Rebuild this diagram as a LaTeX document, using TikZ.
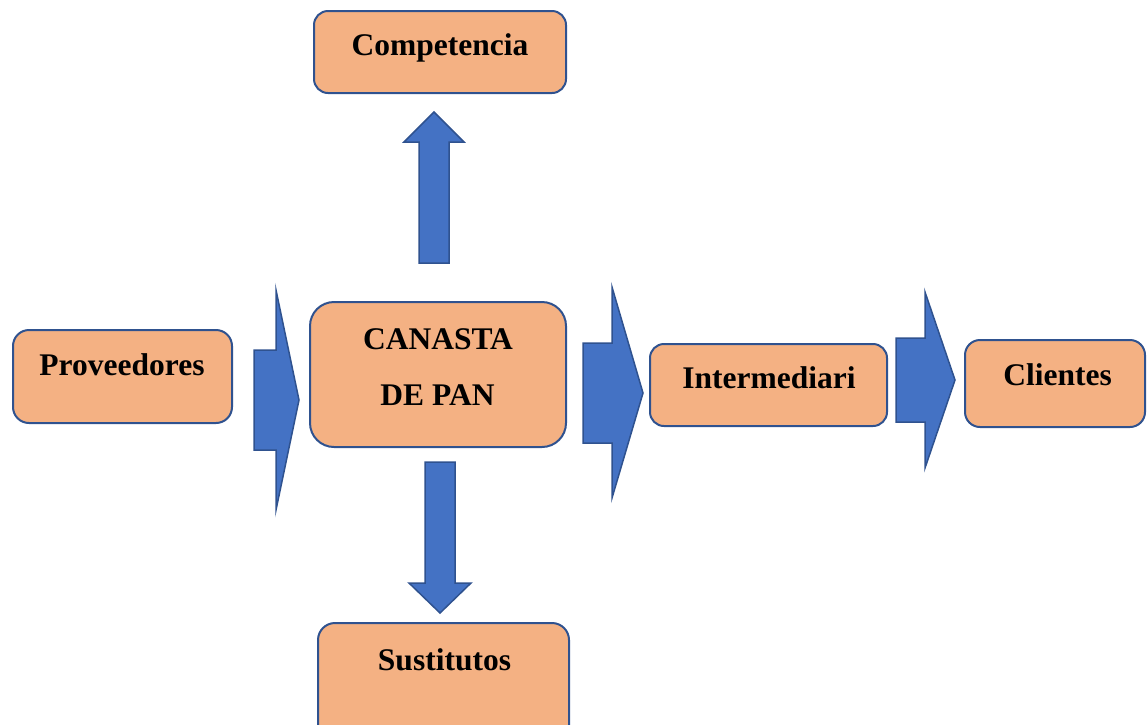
\documentclass[tikz,border=0pt]{standalone}
\usepackage{fontspec}
\setmainfont{Liberation Serif}
\definecolor{boxfill}{HTML}{F4B183}
\definecolor{boxline}{HTML}{2F528F}
\definecolor{arrfill}{HTML}{4472C4}
\begin{document}
\begin{tikzpicture}[x=1pt,y=-1pt,
  box/.style={draw=boxline, fill=boxfill, line width=2pt, rectangle, inner sep=0pt},
  lbl/.style={font=\fontsize{31.5}{38}\selectfont\bfseries, anchor=base, inner sep=0pt},
  blockarrow/.style={draw=boxline, fill=arrfill, line width=1.5pt, line join=miter}]
\useasboundingbox (0,0) rectangle (1147,724);
% boxes
\node[box, rounded corners=14pt, minimum width=252pt, minimum height=82pt] (comp) at (440,52) {};
\node[box, rounded corners=16pt, minimum width=219pt, minimum height=93pt] (prov) at (122.5,376.5) {};
\node[box, rounded corners=24pt, minimum width=256pt, minimum height=145pt] (canasta) at (438,374.5) {};
\node[box, rounded corners=14pt, minimum width=237pt, minimum height=82pt] (inter) at (768.5,385) {};
\node[box, rounded corners=15pt, minimum width=180pt, minimum height=87pt] (cli) at (1055,383.5) {};
\node[box, rounded corners=17pt, minimum width=251pt, minimum height=140pt] (sust) at (443.5,693) {};
% labels
\node[lbl] (tcomp) at (440,55) {Competencia};
\node[lbl] (tprov) at (122,375) {Proveedores};
\node[lbl] (tcan1) at (438,349) {CANASTA};
\node[lbl] (tcan2) at (437.5,405) {DE PAN};
\node[lbl] (tinter) at (769,388) {Intermediari};
\node[lbl] (tcli) at (1057.5,385) {Clientes};
\node[lbl] (tsust) at (444.5,670) {Sustitutos};
% block arrows
\draw[blockarrow] (254,350) -- (276,350) -- (276,290) -- (299,400) -- (276,510) -- (276,450) -- (254,450) -- cycle;
\draw[blockarrow] (583,343) -- (612,343) -- (612,287) -- (643,393) -- (612,498) -- (612,443) -- (583,443) -- cycle;
\draw[blockarrow] (896,338) -- (925,338) -- (925,292) -- (955,380) -- (925,468) -- (925,422) -- (896,422) -- cycle;
\draw[blockarrow] (419,263) -- (419,142) -- (404,142) -- (434,112) -- (464,142) -- (449,142) -- (449,263) -- cycle;
\draw[blockarrow] (425,462) -- (425,583) -- (409,583) -- (440,613) -- (471,583) -- (455,583) -- (455,462) -- cycle;
\end{tikzpicture}
\end{document}
